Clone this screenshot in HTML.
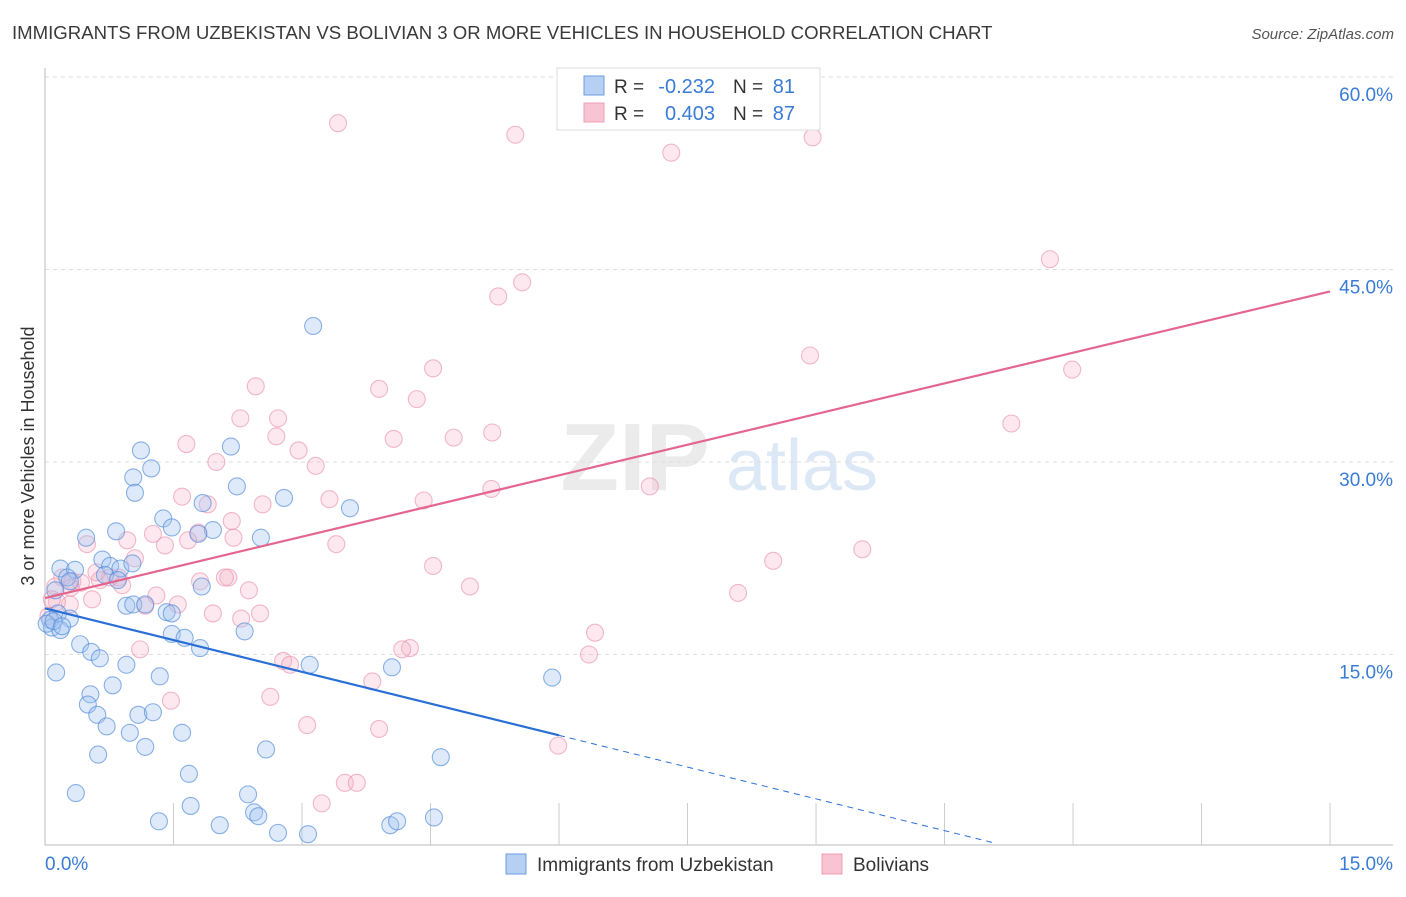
<!DOCTYPE html>
<html><head><meta charset="utf-8"><style>
body{margin:0;background:#fff;font-family:"Liberation Sans",sans-serif}
svg text{font-family:"Liberation Sans",sans-serif}
</style></head><body>
<svg id="c" width="1406" height="892" xmlns="http://www.w3.org/2000/svg">
<text x="12" y="39" font-size="18.6" fill="#3a3a3a">IMMIGRANTS FROM UZBEKISTAN VS BOLIVIAN 3 OR MORE VEHICLES IN HOUSEHOLD CORRELATION CHART</text>
<text x="1394" y="39" font-size="15" fill="#555" font-style="italic" text-anchor="end">Source: ZipAtlas.com</text>
<text x="635" y="490" font-size="96" fill="#ebebeb" font-family="Liberation Serif" font-weight="bold" text-anchor="middle">ZIP</text>
<text x="802" y="490" font-size="72" fill="#dde8f6" text-anchor="middle">atlas</text>
<text transform="translate(34,456) rotate(-90)" font-size="18" fill="#333" text-anchor="middle">3 or more Vehicles in Household</text>
<g id="grid"></g><g id="pts"></g><g id="lines"></g>
<g>
<rect x="557" y="68" width="263" height="62" fill="#fff" stroke="#ddd"/>
<rect x="584" y="76" width="20" height="19" fill="#b6d0f3" stroke="#6b9de0"/>
<rect x="584" y="103" width="20" height="19" fill="#f8c4d3" stroke="#eba0b6"/>
<text x="614" y="93" font-size="19" fill="#333">R =</text>
<text x="715" y="93" font-size="20" fill="#3a7bd5" text-anchor="end">-0.232</text>
<text x="733" y="93" font-size="19" fill="#333">N =</text>
<text x="795" y="93" font-size="20" fill="#3a7bd5" text-anchor="end">81</text>
<text x="614" y="120" font-size="19" fill="#333">R =</text>
<text x="715" y="120" font-size="20" fill="#3a7bd5" text-anchor="end">0.403</text>
<text x="733" y="120" font-size="19" fill="#333">N =</text>
<text x="795" y="120" font-size="20" fill="#3a7bd5" text-anchor="end">87</text>
</g>
<g>
<rect x="506" y="854" width="20" height="20" fill="#b6d0f3" stroke="#6b9de0"/>
<text x="537" y="871" font-size="19" fill="#333">Immigrants from Uzbekistan</text>
<rect x="822" y="854" width="20" height="20" fill="#f8c4d3" stroke="#eba0b6"/>
<text x="853" y="871" font-size="19" fill="#333">Bolivians</text>
</g>
</svg>
<script>
const yTicks=[15,30,45,60];
const yTickLabels=["15.0%","30.0%","45.0%","60.0%"];
const xTickLabels=["0.0%","15.0%"];
const blueX=[3.13,1.12,2.17,1.24,1.03,1.05,2.24,2.79,3.56,1.38,1.48,1.96,0.48,0.83,1.79,2.52,0.67,0.18,0.35,0.76,0.88,1.02,0.26,0.70,0.85,1.83,0.12,0.29,0.95,1.03,1.17,1.42,1.48,0.15,0.06,0.29,0.08,0.18,2.33,0.41,1.48,1.63,1.81,0.54,0.64,4.05,3.09,0.13,0.95,1.34,5.92,0.53,0.79,0.50,0.61,1.09,1.26,0.72,0.99,1.60,1.17,2.58,0.62,4.62,1.68,0.36,2.37,1.70,2.44,2.49,1.33,2.04,2.72,3.07,4.03,4.11,4.54,1.84,0.02,0.10,0.20];
const blueY=[40.6,30.9,31.2,29.5,28.8,27.6,28.1,27.2,26.4,25.6,24.9,24.7,24.1,24.6,24.4,24.1,22.4,21.7,21.6,21.9,21.7,22.1,21.0,21.2,20.8,20.3,20.0,20.7,18.8,18.9,18.9,18.3,18.2,18.2,17.7,17.8,17.1,16.9,16.8,15.8,16.6,16.3,15.5,15.2,14.7,14.0,14.2,13.6,14.2,13.3,13.2,11.9,12.6,11.1,10.3,10.3,10.5,9.4,8.9,8.9,7.8,7.6,7.2,7.0,5.7,4.2,4.1,3.2,2.7,2.4,2.0,1.7,1.1,1.0,1.7,2.0,2.3,26.8,17.4,17.6,17.2];
const pinkX=[3.42,5.49,7.31,8.96,11.73,5.29,5.57,8.93,11.99,4.53,2.46,3.90,4.34,2.28,2.72,1.65,2.70,2.96,4.07,4.77,5.22,11.28,2.00,3.16,1.60,3.32,4.42,5.21,7.06,1.90,2.54,1.79,2.18,1.26,1.40,3.40,9.54,0.49,0.96,0.20,1.05,1.67,2.14,2.38,4.53,0.76,0.64,0.32,0.42,8.50,0.86,0.12,4.96,1.81,2.10,8.09,0.55,0.29,0.14,1.55,1.17,2.51,2.29,1.96,6.42,4.26,4.17,1.11,6.35,2.78,2.86,3.82,1.47,2.63,3.06,3.90,5.99,3.50,3.64,3.23,0.08,0.04,0.30,0.60,1.30,0.90,2.20];
const pinkY=[56.4,55.5,54.1,55.3,45.8,42.9,44.0,38.3,37.2,37.3,35.9,35.7,34.9,33.4,33.4,31.4,32.0,30.9,31.8,31.9,32.3,33.0,30.0,29.7,27.3,27.1,27.0,27.9,28.1,26.7,26.7,24.5,25.4,24.4,23.5,23.6,23.2,23.6,23.9,21.0,22.5,23.9,21.0,20.0,21.9,21.0,20.8,20.7,20.6,22.3,21.0,20.3,20.3,20.7,21.0,19.8,19.3,18.9,19.1,18.9,18.8,18.2,17.8,18.2,16.7,15.5,15.4,15.4,15.0,14.5,14.2,12.9,11.4,11.7,9.5,9.2,7.9,5.0,5.0,3.4,19.3,18.0,20.2,21.4,19.6,20.4,24.1];
const blueFit=[18.6,-1.65], blueSolidEnd=6.0, blueDashEnd=11.09;
const pinkFit=[19.4,1.593];
const NS="http://www.w3.org/2000/svg";
const X=v=>45+v*85.67, Y=v=>847-v*12.833;
function mk(t,a,p){const e=document.createElementNS(NS,t);for(const k in a)e.setAttribute(k,a[k]);p.appendChild(e);return e;}
const g=document.getElementById('grid');
yTicks.forEach((t,i)=>{
 const l=mk('line',{x1:45,x2:1393,y1:Y(t),y2:Y(t),stroke:'#ddd','stroke-dasharray':'4,4'},g);
 
 
 const tx=mk('text',{x:1393,y:Y(t)+24,'font-size':19,fill:'#3a7bd5','text-anchor':'end'},g);
 tx.textContent=yTickLabels[i];
 
 
});
const la=mk('line',{x1:45,x2:45,y1:68,y2:845,stroke:'#bbb'},g);


const ba=mk('line',{x1:45,x2:1393,y1:845,y2:845,stroke:'#bbb'},g);


for(let i=1;i<=10;i++){const t=mk('line',{x1:X(i*1.5),x2:X(i*1.5),y1:803,y2:845,stroke:'#ccc'},g);
 
 }
[[0,'start',45],[15,'end',1393]].forEach((d,i)=>{const t=mk('text',{x:d[2],y:870,'font-size':19,fill:'#3a7bd5','text-anchor':d[1]},g);t.textContent=xTickLabels[i];
 
 });
const p=document.getElementById('pts');
pinkX.forEach((x,i)=>{const c=mk('circle',{cx:X(x),cy:Y(pinkY[i]),r:8.5,fill:'rgba(246,178,198,0.3)',stroke:'rgba(234,140,168,0.6)','stroke-width':1.1},p);
 
 });
blueX.forEach((x,i)=>{const c=mk('circle',{cx:X(x),cy:Y(blueY[i]),r:8.5,fill:'rgba(160,196,240,0.35)',stroke:'rgba(80,138,218,0.65)','stroke-width':1.1},p);
 
 });
const L=document.getElementById('lines');
const bf=x=>blueFit[0]+blueFit[1]*x, pf=x=>pinkFit[0]+pinkFit[1]*x;
const b1=mk('line',{x1:X(0),y1:Y(bf(0)),x2:X(blueSolidEnd),y2:Y(bf(blueSolidEnd)),stroke:'#2a6fd6','stroke-width':2.2},L);


const b2=mk('line',{x1:X(blueSolidEnd),y1:Y(bf(blueSolidEnd)),x2:X(blueDashEnd),y2:Y(bf(blueDashEnd)),stroke:'#2a6fd6','stroke-width':1,'stroke-dasharray':'6,5'},L);


const pl=mk('line',{x1:X(0),y1:Y(pf(0)),x2:X(15),y2:Y(pf(15)),stroke:'#e4668f','stroke-width':2.2},L);


</script>
</body></html>
